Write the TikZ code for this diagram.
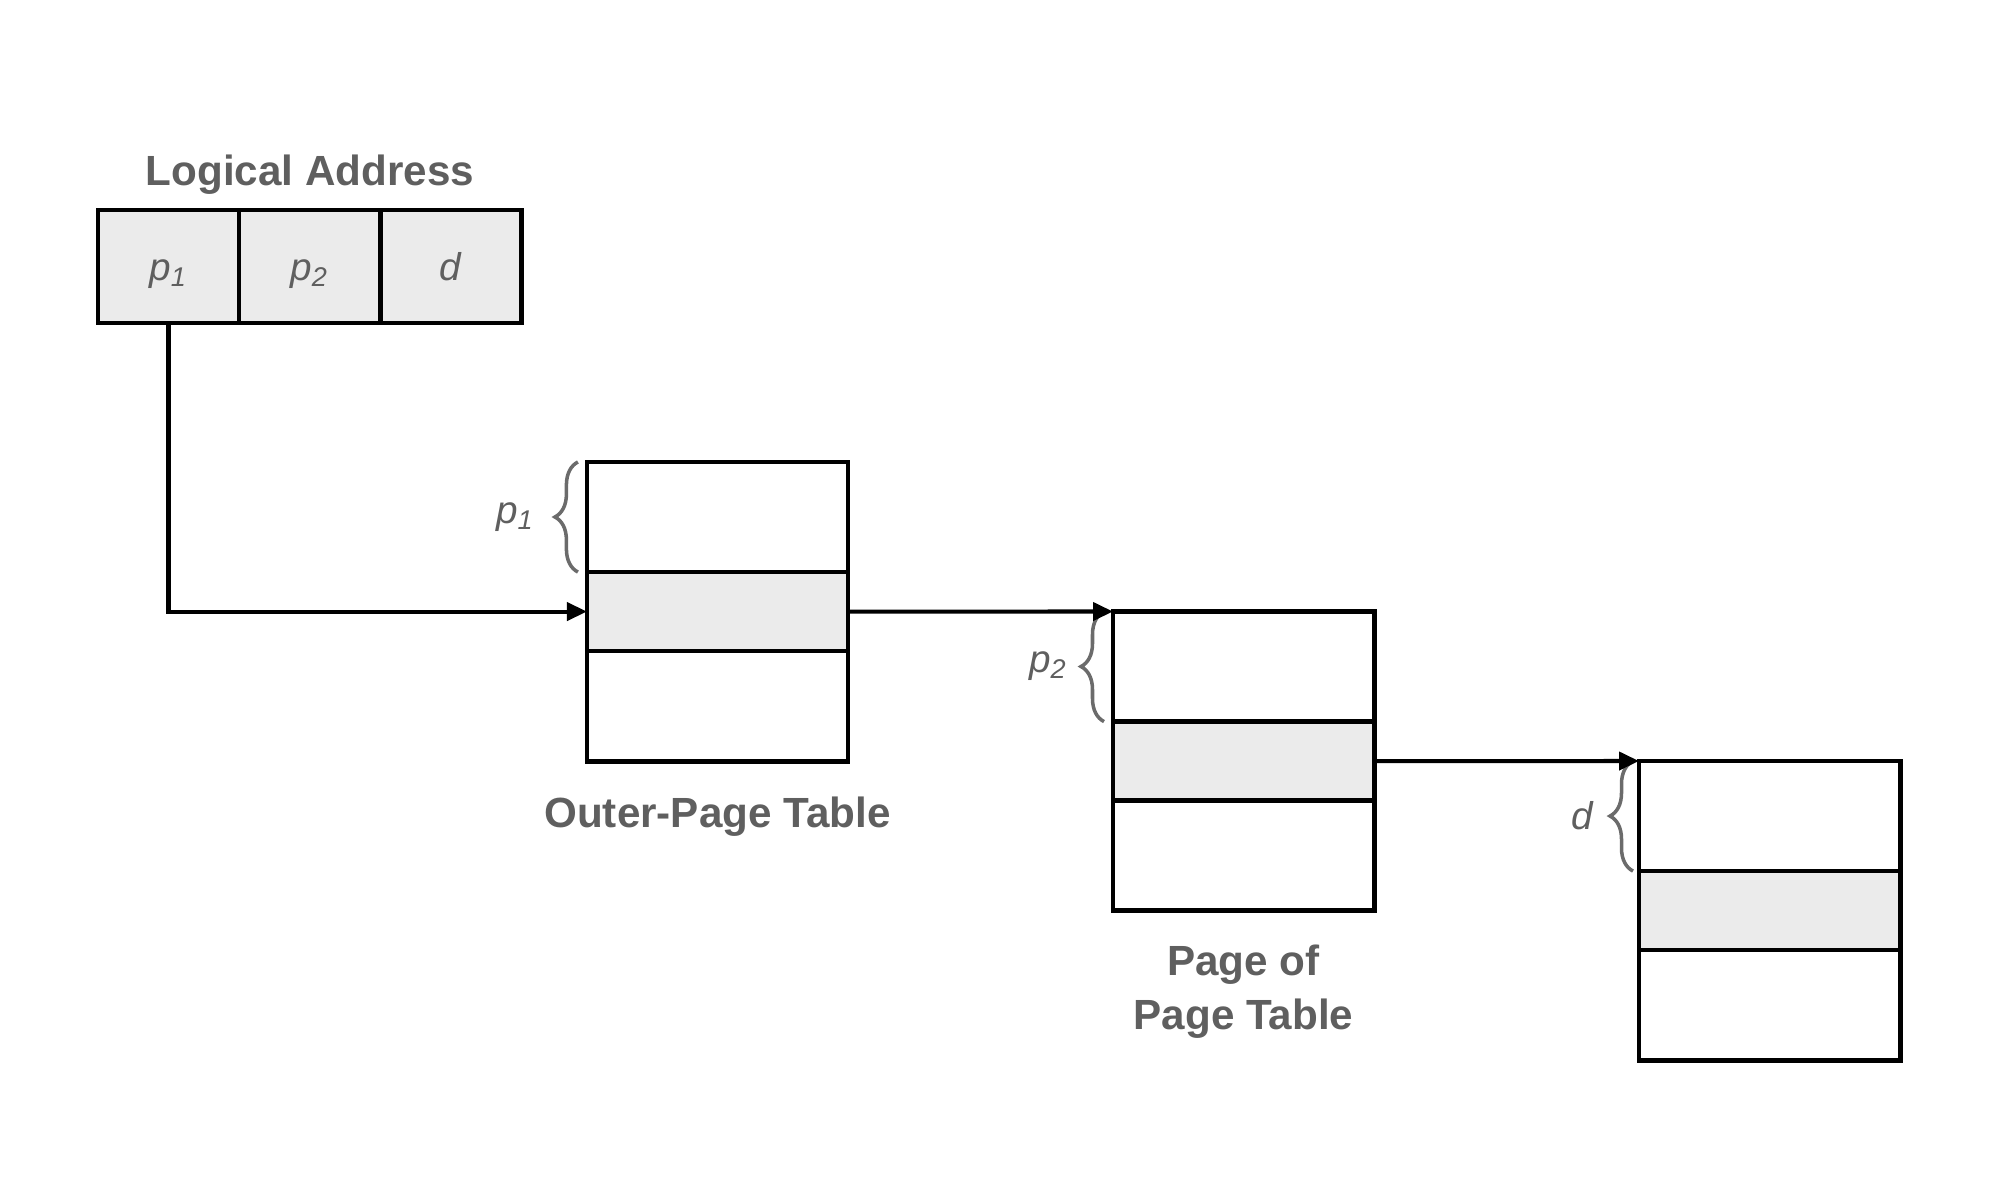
\documentclass[tikz,border=0pt]{standalone}
\usepackage{fontspec}
\setmainfont{Liberation Sans}
\usetikzlibrary{positioning,arrows.meta,decorations.pathreplacing}
\definecolor{cellgray}{HTML}{EBEBEB}
\definecolor{labelgray}{HTML}{5F5F5F}
\definecolor{bracegray}{HTML}{6B6B6B}
\tikzset{
  addrcell/.style={draw, line width=1.35pt, fill=cellgray, minimum width=1.41cm,
    minimum height=1.13cm, inner sep=0pt, outer sep=0pt, text height=1.5ex, text depth=0pt},
  tablerow/.style={draw, line width=1.35pt, minimum width=2.61cm,
    minimum height=1.10cm, inner sep=0pt, outer sep=0pt},
  hitrow/.style={tablerow, fill=cellgray, minimum height=0.79cm},
  title/.style={font=\fontsize{12}{15.4}\selectfont\bfseries, text=labelgray, align=center},
  var/.style={font=\fontsize{11}{13}\selectfont\itshape, text=labelgray},
  link/.style={line width=1.15pt, -{Triangle[length=0.2cm, width=0.18cm]}},
  offset/.style={decorate, decoration={brace, amplitude=0.23cm}, line width=1.0pt, draw=bracegray},
}
\begin{document}
\begin{tikzpicture}[x=0.01cm, y=-0.01cm]
  \useasboundingbox (0,0) rectangle (2000,1200);
  % logical address
  \node[title] (addrtitle) at (310,175) {Logical Address};
  \node[addrcell, var] (p1cell) at (168.5,266.5) {p\textsubscript{1}};
  \node[addrcell, var, right=0pt of p1cell] (p2cell) {p\textsubscript{2}};
  \node[addrcell, var, right=0pt of p2cell] (dcell) {d};
  % outer-page table
  \node[tablerow] (t1top) at (717.5,517) {};
  \node[hitrow, below=0pt of t1top] (t1mid) {};
  \node[tablerow, below=0pt of t1mid] (t1bot) {};
  \node[title] (outertitle) at (717.5,817) {Outer-Page Table};
  % page of page table
  \node[tablerow, anchor=north west] (t2top) at (1113,611.5) {};
  \node[hitrow, below=0pt of t2top] (t2mid) {};
  \node[tablerow, below=0pt of t2mid] (t2bot) {};
  \node[title] (pagetitle) at (1243.5,992) {Page of\\Page Table};
  % page
  \node[tablerow, anchor=north west] (t3top) at (1639,761) {};
  \node[hitrow, below=0pt of t3top] (t3mid) {};
  \node[tablerow, below=0pt of t3mid] (t3bot) {};
  % braces
  \draw[offset] ([xshift=-0.09cm]t1top.south west) -- node[var, left=0.3cm] {p\textsubscript{1}} ([xshift=-0.09cm]t1top.north west);
  \draw[offset] ([xshift=-0.09cm]t2top.south west) -- node[var, left=0.23cm] {p\textsubscript{2}} ([xshift=-0.09cm]t2top.north west);
  \draw[offset] ([xshift=-0.06cm]t3top.south west) -- node[var, left=0.27cm] {d} ([xshift=-0.06cm]t3top.north west);
  % arrows
  \draw[link] (p1cell.south) |- (t1mid.west);
  \draw[link] (t1mid.east) -- (t2top.north west);
  \draw[link] (t2mid.east) -- (t3top.north west);
\end{tikzpicture}
\end{document}
